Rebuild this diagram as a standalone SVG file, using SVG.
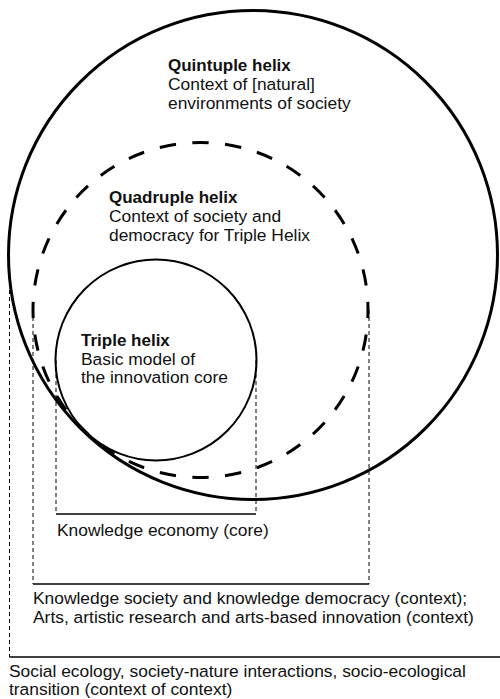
<svg xmlns="http://www.w3.org/2000/svg" width="500" height="699" viewBox="0 0 500 699">
  <style>
    text { font-family: "Liberation Sans", Arial, sans-serif; font-size: 17.4px; fill: #111; }
    .title { font-weight: bold; font-size: 17px; }
    .solid { fill: none; stroke: #000; }
    .quad { fill: none; stroke: #000; stroke-width: 3; stroke-dasharray: 5 5; stroke-dashoffset: 2.5; }
    .guide { fill: none; stroke: #000; stroke-width: 1; stroke-dasharray: 4 3; }
    .base { fill: none; stroke: #000; stroke-width: 1.5; }
  </style>
  <rect width="500" height="699" fill="#fff"/>

  <!-- span brackets: dashed verticals, solid base line -->
  <g id="connectors">
    <g id="bracket-core">
      <path class="guide" d="M56 360 V514 M256 360 V514"/>
      <path class="base" d="M56 514 H256"/>
    </g>
    <g id="bracket-context">
      <path class="guide" d="M33 310 V584 M369 310 V584"/>
      <path class="base" d="M33 584 H369"/>
    </g>
    <g id="bracket-context-of-context">
      <path class="guide" d="M9.5 255 V657"/>
      <path class="base" d="M9.5 657 H500"/>
    </g>
  </g>

  <g id="quintuple-helix">
    <circle class="solid" cx="253" cy="255" r="244.5" stroke-width="3"/>
    <text x="168" y="71"><tspan class="title">Quintuple helix</tspan><tspan x="168" y="90">Context of [natural]</tspan><tspan x="168" y="108.7">environments of society</tspan></text>
  </g>

  <g id="quadruple-helix">
    <circle class="quad" cx="200.5" cy="310" r="167.5" pathLength="320"/>
    <text x="109" y="203.3"><tspan class="title">Quadruple helix</tspan><tspan x="109" y="222.3">Context of society and</tspan><tspan x="109" y="240.7">democracy for Triple Helix</tspan></text>
  </g>

  <g id="triple-helix">
    <circle class="solid" cx="156" cy="360" r="100.5" stroke-width="2"/>
    <text x="81" y="345.7"><tspan class="title">Triple helix</tspan><tspan x="81" y="364.5">Basic model of</tspan><tspan x="81" y="383">the innovation core</tspan></text>
  </g>

  <g id="label-core">
    <text x="57" y="536">Knowledge economy (core)</text>
  </g>
  <g id="label-context">
    <text x="33" y="604">Knowledge society and knowledge democracy (context);</text>
    <text x="33" y="622.7">Arts, artistic research and arts-based innovation (context)</text>
  </g>
  <g id="label-context-of-context">
    <text x="9" y="676.7">Social ecology, society-nature interactions, socio-ecological</text>
    <text x="9" y="695">transition (context of context)</text>
  </g>
</svg>
